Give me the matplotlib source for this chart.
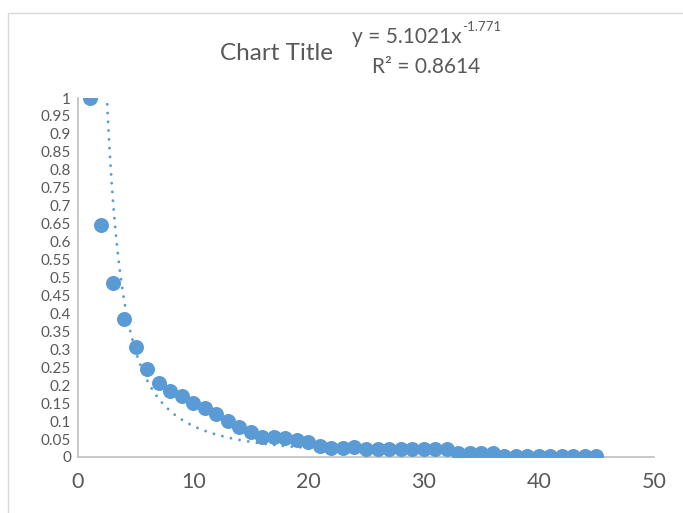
import numpy as np
import matplotlib
matplotlib.use("Agg")
import matplotlib.pyplot as plt
from matplotlib.patches import Rectangle

plt.rcParams['font.family'] = ['Lato', 'DejaVu Sans']

# Data
x_vals = list(range(1, 46))
y_vals = [1.0, 0.645, 0.486, 0.384, 0.307, 0.246, 0.207, 0.184, 0.170, 0.150,
          0.136, 0.119, 0.099, 0.084, 0.071, 0.057, 0.056, 0.054, 0.047, 0.041,
          0.031, 0.026, 0.026, 0.029, 0.021, 0.021, 0.021, 0.021, 0.021, 0.021,
          0.021, 0.021, 0.012, 0.010, 0.010, 0.010, 0.004, 0.004, 0.004, 0.004,
          0.004, 0.004, 0.004, 0.004, 0.004]
fit_a = 5.1021
fit_b = -1.771
r2 = 0.8614
y_ticks = [round(i * 0.05, 2) for i in range(21)]
y_tick_labels = ["0" if v == 0 else ("1" if v == 1 else f"{v:g}") for v in y_ticks]
x_ticks = [0, 10, 20, 30, 40, 50]

W, H = 683, 513
fig = plt.figure(figsize=(W / 100, H / 100), dpi=100)
fig.patch.set_facecolor('white')

# chart border
fig.patches.append(Rectangle((8 / W, -0.05), 1.0, 1 - 13 / H + 0.05, transform=fig.transFigure,
                             fill=False, edgecolor='#D9D9D9', linewidth=1.0))

ax = fig.add_axes([78 / W, 1 - 457 / H, (654 - 78) / W, (457 - 98) / H])
blue = '#5B9BD5'
ax.plot(x_vals, y_vals, 'o', color=blue, markersize=10.8, markeredgewidth=0, zorder=3)

xf = np.linspace(min(x_vals), max(x_vals), 600)
yf = fit_a * xf ** fit_b
ax.plot(xf, yf, color=blue, linewidth=2.1, linestyle=(0, (0.01, 3.0)),
        dash_capstyle='round', zorder=4)

ax.set_xlim(0, 50)
ax.set_ylim(0, 1)
ax.set_xticks(x_ticks)
ax.set_xticklabels([str(v) for v in x_ticks], fontsize=15.5, color='#595959')
ax.set_yticks(y_ticks)
ax.set_yticklabels(y_tick_labels, fontsize=11, color='#595959')
ax.tick_params(axis='both', length=0)
ax.tick_params(axis='x', pad=11)
ax.tick_params(axis='y', pad=5)
for s in ['top', 'right']:
    ax.spines[s].set_visible(False)
for s in ['left', 'bottom']:
    ax.spines[s].set_color('#BFBFBF')
    ax.spines[s].set_linewidth(1.2)

fig.text(277 / W, 1 - 53 / H, "Chart Title", ha='center', va='center', fontsize=17.5, color='#595959')
t = fig.text(407 / W, 1 - 37 / H, "y = 5.1021x", ha='center', va='center', fontsize=15, color='#595959')
ax.annotate("-1.771", xy=(1.0, 0.72), xycoords=t, ha='left', va='bottom', fontsize=9.6, color='#595959',
            annotation_clip=False)
fig.text(426 / W, 1 - 67 / H, "R² = 0.8614", ha='center', va='center', fontsize=15, color='#595959')

fig.savefig("out.png", dpi=100, facecolor='white')
